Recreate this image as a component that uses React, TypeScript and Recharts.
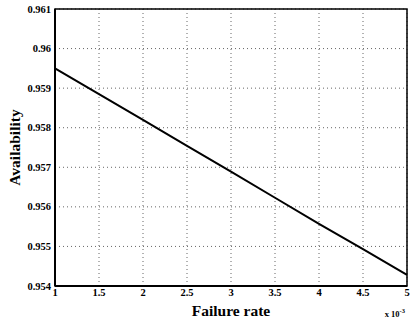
import React from 'react';
import { LineChart, Line, XAxis, YAxis, CartesianGrid, ReferenceArea } from 'recharts';

const failureRate = [1, 1.5, 2, 2.5, 3, 3.5, 4, 4.5, 5];
const availability = [0.9595, 0.95885, 0.9582, 0.95754, 0.95689, 0.95623, 0.95557, 0.95493, 0.95428];
const xTicks = [1, 1.5, 2, 2.5, 3, 3.5, 4, 4.5, 5];
const yTicks = [0.954, 0.955, 0.956, 0.957, 0.958, 0.959, 0.96, 0.961];
const xLabel = 'Failure rate';
const yLabel = 'Availability';
const xExponent = '-3';

const data = failureRate.map((x, i) => ({ x, y: availability[i] }));

const FONT = '"Liberation Serif", "Times New Roman", serif';

const fmtY = (v: number) => String(Number(v.toFixed(3)));

const XTick = (props: any) => {
  const { x, y, payload } = props;
  return (
    <text x={x} y={y + 10} textAnchor="middle" fontFamily={FONT} fontWeight="bold" fontSize={10.5} fill="#000">
      {String(payload.value)}
    </text>
  );
};

const YTick = (props: any) => {
  const { x, y, payload } = props;
  return (
    <text x={x} y={y + 3.5} textAnchor="end" fontFamily={FONT} fontWeight="bold" fontSize={10.5} fill="#000">
      {fmtY(payload.value)}
    </text>
  );
};

const XLabelContent = (props: any) => {
  const vb = props.viewBox || { x: 55, y: 286, width: 352, height: 39 };
  const cx = vb.x + vb.width / 2;
  return (
    <g>
      <text x={cx} y={vb.y + 30} textAnchor="middle" fontFamily={FONT} fontWeight="bold" fontSize={15.5} fill="#000">
        {xLabel}
      </text>
      <text x={vb.x + vb.width - 2} y={vb.y + 31} textAnchor="end" fontFamily={FONT} fontWeight="bold" fontSize={8.5} fill="#000">
        x 10
        <tspan dy={-4} fontSize={6.5}>{xExponent}</tspan>
      </text>
    </g>
  );
};

const YLabelContent = (props: any) => {
  const vb = props.viewBox || { x: 0, y: 9, width: 55, height: 277 };
  const cy = vb.y + vb.height / 2;
  const cx = 20;
  return (
    <text x={cx} y={cy} textAnchor="middle" transform={`rotate(-90 ${cx} ${cy})`} fontFamily={FONT} fontWeight="bold" fontSize={15.5} fill="#000">
      {yLabel}
    </text>
  );
};

export default function App() {
  return (
    <div style={{ position: 'absolute', left: 0, top: 0, width: 410, height: 325, background: '#fff' }}>
      <LineChart width={410} height={325} data={data} margin={{ top: 9, right: 3, bottom: 0, left: 0 }}>
        <CartesianGrid stroke="#666" strokeDasharray="1 3" strokeWidth={1} />
        <XAxis
          dataKey="x"
          type="number"
          domain={[1, 5]}
          ticks={xTicks}
          interval={0}
          height={39}
          axisLine={{ stroke: '#000', strokeWidth: 2 }}
          tickLine={false}
          tickSize={0}
          tickMargin={0}
          tick={<XTick />}
          label={<XLabelContent />}
        />
        <YAxis
          type="number"
          domain={[0.954, 0.961]}
          ticks={yTicks}
          interval={0}
          width={55}
          axisLine={{ stroke: '#000', strokeWidth: 2 }}
          tickLine={false}
          tickSize={0}
          tickMargin={4}
          tick={<YTick />}
          label={<YLabelContent />}
        />
        <ReferenceArea x1={1} x2={5} y1={0.954} y2={0.961} fill="none" stroke="#000" strokeWidth={1.5} ifOverflow="visible" />
        <Line type="linear" dataKey="y" stroke="#000" strokeWidth={2} dot={false} isAnimationActive={false} />
      </LineChart>
    </div>
  );
}
